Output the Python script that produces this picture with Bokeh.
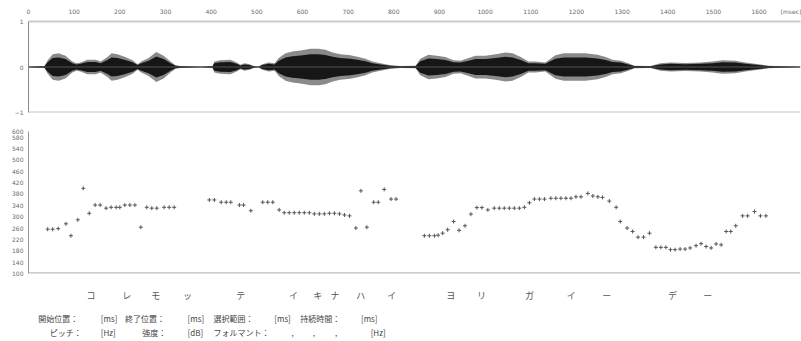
from bokeh.plotting import figure
from bokeh.layouts import column
from bokeh.models import Range1d, FixedTicker, Span
from bokeh.embed import file_html
from bokeh.resources import INLINE
from bokeh.core.properties import value

# ---------------- data ----------------
# waveform envelope (time in ms, amplitude as fraction of full scale)
env_ms = [0, 35, 42, 53, 66, 81, 96, 105, 114, 129, 147, 158, 173, 182, 195, 212, 228, 239,
          247, 263, 280, 296, 311, 322, 333, 377, 403, 407, 420, 442, 456, 464, 473, 484,
          493, 504, 512, 526, 539, 548, 563, 578, 596, 618, 635, 650, 666, 683, 705, 723,
          738, 753, 771, 793, 815, 848, 858, 876, 894, 913, 931, 946, 964, 979, 1001, 1023,
          1045, 1060, 1078, 1095, 1110, 1132, 1154, 1172, 1198, 1220, 1246, 1264, 1279, 1297,
          1314, 1327, 1362, 1384, 1406, 1439, 1472, 1498, 1520, 1548, 1570, 1599, 1621, 1636,
          1690]
env_amp = [0.01, 0.02, 0.15, 0.28, 0.30, 0.25, 0.12, 0.08, 0.10, 0.16, 0.16, 0.12, 0.22, 0.30,
           0.28, 0.22, 0.15, 0.06, 0.12, 0.20, 0.33, 0.25, 0.12, 0.04, 0.02, 0.01, 0.02, 0.12,
           0.15, 0.16, 0.10, 0.05, 0.08, 0.06, 0.02, 0.01, 0.06, 0.10, 0.08, 0.20, 0.30, 0.34,
           0.36, 0.40, 0.40, 0.38, 0.32, 0.28, 0.26, 0.22, 0.18, 0.12, 0.08, 0.04, 0.02, 0.03,
           0.18, 0.27, 0.25, 0.22, 0.15, 0.14, 0.20, 0.25, 0.25, 0.28, 0.32, 0.30, 0.22, 0.12,
           0.12, 0.10, 0.26, 0.30, 0.30, 0.30, 0.27, 0.22, 0.16, 0.14, 0.08, 0.03, 0.02, 0.08,
           0.10, 0.09, 0.10, 0.12, 0.15, 0.14, 0.10, 0.06, 0.03, 0.02, 0.01]

# pitch track (ms, Hz)
pitch_ms = [42, 53, 65, 82, 93, 108, 120, 133, 146, 157, 170, 181, 192, 200, 211, 222, 233,
            246, 259, 270, 281, 297, 308, 319,
            396, 407, 422, 433, 443, 462, 471, 487, 513, 524, 535, 549, 560, 571, 582, 593,
            604, 615, 626, 637, 648, 659, 670, 681, 692, 703, 717, 728, 741, 756, 766, 779,
            794, 805,
            867, 878, 889, 897, 907, 918, 931, 943, 956, 969, 982, 993, 1006, 1020, 1031,
            1042, 1053, 1064, 1075, 1086, 1097, 1108, 1119, 1130, 1144, 1155, 1166, 1177,
            1188, 1199, 1210, 1225, 1236, 1247, 1257, 1272, 1287, 1296, 1311, 1323, 1335,
            1347, 1360, 1374, 1385, 1396, 1406, 1416, 1427, 1438, 1449, 1462, 1473, 1484,
            1495, 1506, 1517, 1528, 1538, 1549, 1564, 1575, 1590, 1603, 1615]
pitch_hz = [256, 256, 258, 275, 233, 289, 400, 312, 341, 341, 330, 333, 333, 333, 341, 341, 341,
            263, 333, 330, 330, 333, 333, 333,
            359, 359, 351, 351, 351, 341, 341, 321, 351, 351, 351, 324, 314, 314, 314, 314,
            314, 314, 310, 310, 310, 312, 312, 310, 306, 303, 260, 391, 263, 351, 351, 396,
            362, 362,
            233, 233, 233, 235, 242, 254, 283, 252, 268, 309, 332, 332, 324, 330, 330,
            330, 330, 330, 330, 333, 349, 362, 362, 362, 365, 365, 365, 365,
            365, 370, 370, 382, 373, 370, 368, 355, 333, 283, 260, 248, 228,
            228, 242, 192, 192, 192, 184, 184, 186, 186, 190, 198, 205, 195,
            190, 204, 201, 248, 248, 268, 303, 303, 318, 303, 303]

# phoneme labels (katakana) and their times in ms
kana = ["コ", "レ", "モ", "ッ", "テ", "イ", "キ", "ナ", "ハ", "イ",
        "ヨ", "リ", "ガ", "イ", "ー", "デ", "ー"]
kana_ms = [82, 163, 229, 301, 422, 542, 597, 636, 695, 765,
           899, 969, 1078, 1173, 1254, 1403, 1483]

time_ticks = [0, 100, 200, 300, 400, 500, 600, 700, 800, 900, 1000, 1100, 1200, 1300,
              1400, 1500, 1600]
time_unit = "[msec]"
amp_ticks = [-1, 0, 1]
pitch_ticks = [100, 140, 180, 220, 260, 300, 340, 380, 420, 460, 500, 540, 580, 600]

row1_texts = ["開始位置：", "[ms]", "終了位置：", "[ms]", "選択範囲：", "[ms]", "持続時間：", "[ms]"]
row2_texts = ["ピッチ：", "[Hz]", "強度：", "[dB]", "フォルマント：", ",", ",", ",", "[Hz]"]

# ---------------- layout constants ----------------
X0_PX = 27.5          # pixel of t = 0
PX_PER_MS = 0.4566
XMAX = 772 / PX_PER_MS
JP = "Noto Sans CJK JP"
AX_FONT = "DejaVu Sans"


def px_to_ms(px):
    return (px - X0_PX) / PX_PER_MS


def style_axis(ax, ticks, standoff):
    ax.ticker = FixedTicker(ticks=ticks)
    ax.major_tick_in = 0
    ax.major_tick_out = 0
    ax.minor_tick_in = 0
    ax.minor_tick_out = 0
    ax.major_label_text_font_size = "6px"
    ax.major_label_text_font = AX_FONT
    ax.major_label_text_color = "#6a6a6a"
    ax.major_label_standoff = standoff


# ---------------- waveform panel ----------------
p1 = figure(width=801, height=120, x_range=Range1d(0, XMAX), y_range=Range1d(-1, 1),
            x_axis_location="above", output_backend="svg", toolbar_location=None,
            min_border_left=28, min_border_right=1, min_border_top=21, min_border_bottom=8)
p1.outline_line_color = None
p1.grid.visible = False
unit_pos = round(px_to_ms(790), 1)
style_axis(p1.xaxis[0], time_ticks + [unit_pos], 7)
p1.xaxis[0].major_label_overrides = {unit_pos: time_unit}
p1.xaxis[0].axis_line_color = "#cccccc"
p1.xaxis[0].axis_line_width = 2
style_axis(p1.yaxis[0], amp_ticks, 5)
p1.yaxis[0].axis_line_color = "#888888"
p1.add_layout(Span(location=-1, dimension="width", line_color="#c4c4c4", line_width=2))
p1.add_layout(Span(location=0, dimension="width", line_color="#555555", line_width=1))

pos = [a for a in env_amp]
neg = [-a for a in env_amp]
core_pos = [0.7 * a for a in env_amp]
core_neg = [-0.7 * a for a in env_amp]
p1.varea(x=env_ms, y1=neg, y2=pos, fill_color="#8a8a8a")
p1.varea(x=env_ms, y1=core_neg, y2=core_pos, fill_color="#161616")

# ---------------- pitch panel ----------------
p2 = figure(width=801, height=156, x_range=Range1d(0, XMAX), y_range=Range1d(100, 600),
            x_axis_location=None, output_backend="svg", toolbar_location=None,
            min_border_left=28, min_border_right=1, min_border_top=11, min_border_bottom=3)
p2.outline_line_color = None
p2.grid.visible = False
style_axis(p2.yaxis[0], pitch_ticks, 5)
p2.yaxis[0].axis_line_color = "#999999"
p2.add_layout(Span(location=100, dimension="width", line_color="#bdbdbd", line_width=2.5))
p2.scatter(x=pitch_ms, y=pitch_hz, marker="cross", size=4, line_color="#555555", line_width=1)

# ---------------- label / status panel ----------------
p3 = figure(width=801, height=65, x_range=Range1d(px_to_ms(0), px_to_ms(801)),
            y_range=Range1d(65, 0), x_axis_location=None, y_axis_location=None,
            output_backend="svg", toolbar_location=None, min_border=0)
p3.outline_line_color = None
p3.grid.visible = False
p3.text(x=kana_ms, y=[19] * len(kana), text=kana, text_font=value(JP), text_font_size="9px",
        text_align="center", text_baseline="middle", text_color="#555555")

row1_px = [10, 75, 100, 165, 192, 255, 282, 345]
row2_px = [22, 75, 118, 165, 192, 273, 295, 318, 355]
p3.text(x=[px_to_ms(v) for v in row1_px], y=[42] * len(row1_texts), text=row1_texts,
        text_font=value(JP), text_font_size="8px", text_align="left", text_baseline="middle",
        text_color="#444444")
p3.text(x=[px_to_ms(v) for v in row2_px], y=[56] * len(row2_texts), text=row2_texts,
        text_font=value(JP), text_font_size="8px", text_align="left", text_baseline="middle",
        text_color="#444444")

layout = column(p1, p2, p3, spacing=0)
open("out.html", "w").write(file_html(layout, INLINE))
